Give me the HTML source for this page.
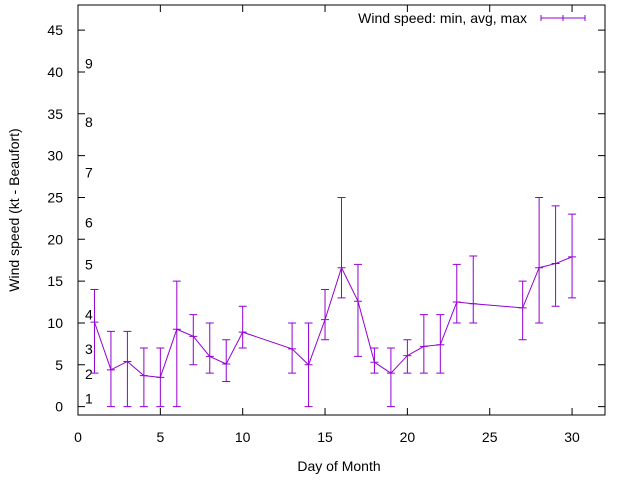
<!DOCTYPE html>
<html><head><meta charset="utf-8"><style>
body{margin:0;background:#fff}
svg{display:block;font-family:"Liberation Sans",sans-serif}
</style></head><body>
<svg id="chart" width="640" height="480" xmlns="http://www.w3.org/2000/svg">
<g id="axes"></g>
<g id="marks"></g>
<text x="339" y="471" font-size="14" text-anchor="middle">Day of Month</text>
<text transform="translate(19,210) rotate(-90)" font-size="14" text-anchor="middle">Wind speed (kt - Beaufort)</text>
<g>
<text x="527" y="23" font-size="14" text-anchor="end">Wind speed: min, avg, max</text>
<g stroke="#9400d3" stroke-width="1">
<line x1="541" y1="18" x2="585" y2="18"/><line x1="541" y1="15" x2="541" y2="21"/><line x1="585" y1="15" x2="585" y2="21"/><line x1="563" y1="15" x2="563" y2="21"/>
</g></g>
</svg>
<script>
const days=[1,2,3,4,5,6,7,8,9,10,13,14,15,16,17,18,19,20,21,22,23,24,27,28,29,30];
const avgs=[10.1,4.4,5.4,3.7,3.5,9.25,8.4,6.0,5.1,8.9,6.9,5.0,10.4,16.6,12.6,5.3,4.0,6.1,7.2,7.4,12.5,12.3,11.8,16.6,17.1,17.9];
const mins=[4,0,0,0,0,0,5,4,3,7,4,0,8,13,6,4,0,4,4,4,10,10,8,10,12,13];
const maxs=[14,9,9,7,7,15,11,10,8,12,10,10,14,25,17,7,7,8,11,11,17,18,15,25,24,23];
const xTicks=[0,5,10,15,20,25,30];
const yTicks=[0,5,10,15,20,25,30,35,40,45];
const beaufortLabels=["1","2","3","4","5","6","7","8","9"];
const beaufortKt=[1,3.9,6.9,11,17,22,28,34,41];
const NS="http://www.w3.org/2000/svg";
const L=78,R=605,T=5,B=415,xmin=0,xmax=32,ymin=-1,ymax=48;
const sx=v=>L+(v-xmin)/(xmax-xmin)*(R-L);
const sy=v=>B-(v-ymin)/(ymax-ymin)*(B-T);
function mk(tag,at,parent){const e=document.createElementNS(NS,tag);for(const k in at)e.setAttribute(k,at[k]);parent.appendChild(e);return e;}
const ax=document.getElementById('axes'),mg=document.getElementById('marks');
let fr=mk('rect',{x:L,y:T,width:R-L,height:B-T,fill:'none',stroke:'#000','stroke-width':1},ax);

xTicks.forEach(v=>{const x=sx(v);
 let t=mk('path',{d:`M${x},${B}v-7M${x},${T}v7`,stroke:'#000'},ax);
 
 let l=mk('text',{x:x,y:B+27,'font-size':14,'text-anchor':'middle'},ax);l.textContent=v;
 });
yTicks.forEach(v=>{const y=sy(v);
 let t=mk('path',{d:`M${L},${y}h7M${R},${y}h-7`,stroke:'#000'},ax);
 
 let l=mk('text',{x:63,y:y+5,'font-size':14,'text-anchor':'end'},ax);l.textContent=v;
 });
beaufortLabels.forEach((s,i)=>{let l=mk('text',{x:85,y:sy(beaufortKt[i])+5,'font-size':14},ax);l.textContent=s;
 });
let pl=mk('polyline',{points:days.map((d,i)=>sx(d)+','+sy(avgs[i])).join(' '),fill:'none',stroke:'#9400d3','stroke-width':1},mg);

days.forEach((d,i)=>{const x=sx(d),y1=sy(mins[i]),y2=sy(maxs[i]),ya=sy(avgs[i]);
 let e=mk('path',{d:`M${x},${y1}V${y2}M${x-4},${y1}h8M${x-4},${y2}h8M${x-4},${ya}h8`,stroke:'#9400d3','stroke-width':1,fill:'none'},mg);
 });
</script>
</body></html>
